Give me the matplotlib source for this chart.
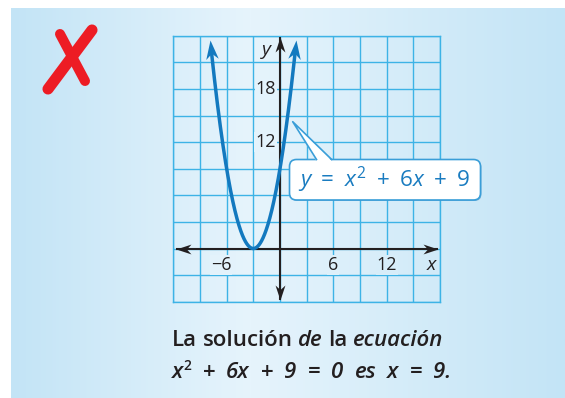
import matplotlib
matplotlib.use("Agg")
import matplotlib.pyplot as plt
import numpy as np
from matplotlib.colors import LinearSegmentedColormap, to_rgb
from matplotlib.markers import MarkerStyle
from matplotlib.path import Path
from matplotlib.patches import FancyBboxPatch, Polygon

plt.rcParams["font.family"] = ["Open Sans", "DejaVu Sans"]
plt.rcParams["mathtext.fontset"] = "custom"
plt.rcParams["mathtext.rm"] = "Open Sans"
plt.rcParams["mathtext.it"] = "Open Sans:italic"
plt.rcParams["mathtext.bf"] = "Open Sans:bold"

# curve y = x^2 + 6x + 9, drawn between the two arrow tips
coeffs = [1, 6, 9]
x_span = (-7.85, 1.85)
x_lim = (-12, 18)
y_lim = (-6, 24)
grid_step = 3
x_tick_labels = {-6: "\u22126", 6: "6", 12: "12"}
y_tick_labels = {12: "12", 18: "18"}
equation = r"$y\ =\ x^2\ +\ 6x\ +\ 9$"
caption_line1 = [("La", "normal"), ("solución", "normal"), ("de", "italic"),
                 ("la", "normal"), ("ecuación", "italic")]
caption_line2 = [("x", "italic"), ("2", "sup"), ("+", "normal"), ("6x", "italic"),
                 ("+", "normal"), ("9", "italic"), ("=", "normal"), ("0", "italic"),
                 ("es", "italic"), ("x", "italic"), ("=", "normal"), ("9.", "italic")]

W, H = 565, 398
INK = "#231f20"
BLUE = "#1379bf"
GRID = "#3db3e6"
EDGE = "#3a9ed8"
BG_LO, BG_HI = "#c3e4f6", "#e6f4fc"

fig = plt.figure(figsize=(W / 100, H / 100), dpi=100)


def bg_mix(px_x):
    t = np.interp(px_x, [11, 250, W], [0.0, 1.0, 0.0])
    lo, hi = np.array(to_rgb(BG_LO)), np.array(to_rgb(BG_HI))
    return tuple(lo + (hi - lo) * t)


# background panel with soft horizontal gradient
bg = fig.add_axes([0, 0, 1, 1], zorder=0)
bg.set_xlim(0, W)
bg.set_ylim(H, 0)
bg.axis("off")
cmap = LinearSegmentedColormap.from_list("panel", [BG_LO, BG_HI])
grad = np.interp(np.arange(11, W), [11, 250, W], [0.0, 1.0, 0.0])
bg.imshow(grad[None, :], extent=(11, W, H, 8), aspect="auto", cmap=cmap,
          vmin=0, vmax=1, interpolation="bilinear")

# coordinate grid
ax = fig.add_axes([173.3 / W, 1 - 301.7 / H, 266.7 / W, 266.0 / H], zorder=2)
ax.set_facecolor("none")
ax.set_xlim(*x_lim)
ax.set_ylim(*y_lim)
ax.set_xticks(np.arange(x_lim[0], x_lim[1] + 1, grid_step))
ax.set_yticks(np.arange(y_lim[0], y_lim[1] + 1, grid_step))
ax.tick_params(length=0, labelbottom=False, labelleft=False)
ax.grid(True, color=GRID, lw=1.0)
for sp in ax.spines.values():
    sp.set_color(GRID)
    sp.set_linewidth(1.0)

head = Path([(0, 0), (-1, 0.33), (-0.7, 0), (-1, -0.33), (0, 0)],
            [Path.MOVETO, Path.LINETO, Path.LINETO, Path.LINETO, Path.CLOSEPOLY])


def arrowhead(x, y, angle, length_px, color):
    m = MarkerStyle(head).rotated(deg=angle)
    ax.plot([x], [y], marker=m, ms=2 * length_px * 0.72, color=color,
            mfc=color, mew=0, ls="none", clip_on=False, zorder=6)


# axes with arrows at both ends
ax_x = (-11.75, 17.75)
ax_y = (-5.8, 23.8)
ax.plot(ax_x, [0, 0], color=INK, lw=1.5, zorder=4, solid_capstyle="butt")
ax.plot([0, 0], ax_y, color=INK, lw=1.5, zorder=4, solid_capstyle="butt")
arrowhead(ax_x[0], 0, 180, 15, INK)
arrowhead(ax_x[1], 0, 0, 15, INK)
arrowhead(0, ax_y[0], -90, 15, INK)
arrowhead(0, ax_y[1], 90, 15, INK)

# parabola, line trimmed under the arrowheads
xs = np.linspace(x_span[0], x_span[1], 600)
ys = np.polyval(coeffs, xs)
disp = ax.transData.transform(np.column_stack([xs, ys]))
tip_len = 19
keep = (np.hypot(*(disp - disp[0]).T) > tip_len * 0.6) & \
       (np.hypot(*(disp - disp[-1]).T) > tip_len * 0.6)
ax.plot(xs[keep], ys[keep], color=BLUE, lw=2.5, zorder=5, solid_capstyle="butt")
for end, inner in ((0, np.argmax(keep)), (-1, len(keep) - 1 - np.argmax(keep[::-1]))):
    d = disp[end] - disp[inner]
    arrowhead(xs[end], ys[end], np.degrees(np.arctan2(d[1], d[0])), tip_len, BLUE)

# tick numbers sit on a knocked-out background
tx = ax.transData
for v, s in x_tick_labels.items():
    px_x = tx.transform((v, 0))[0]
    shift = -4 if v < 0 else 0
    ax.annotate(s, (v, -1.9), xytext=(shift, 0), textcoords="offset points",
                ha="center", va="center", fontsize=13, color=INK, zorder=7,
                bbox=dict(fc=bg_mix(px_x), ec="none", pad=0.6))
for v, s in y_tick_labels.items():
    ax.annotate(s, (0, v), xytext=(-3, 0), textcoords="offset points",
                ha="right", va="center", fontsize=13, color=INK, zorder=7,
                bbox=dict(fc=bg_mix(265), ec="none", pad=0.6))
ax.annotate("x", (x_lim[1], -1.9), xytext=(-6, 0), textcoords="offset points",
            ha="center", va="center", fontsize=14, style="italic", color=INK)
ax.annotate("y", (0, 22.4), xytext=(-10, 0), textcoords="offset points",
            ha="center", va="center", fontsize=14, style="italic", color=INK)

# overlay in pixel space: callout, caption, red cross
top = fig.add_axes([0, 0, 1, 1], zorder=10)
top.set_xlim(0, W)
top.set_ylim(H, 0)
top.axis("off")

shadow = FancyBboxPatch((290.5, 160.5), 191, 40.5, boxstyle="round,pad=0,rounding_size=7",
                        fc="#2f86c0", ec="none", alpha=0.55)
top.add_patch(shadow)
box = FancyBboxPatch((289.5, 159.5), 191, 40.5, boxstyle="round,pad=0,rounding_size=7",
                     fc="white", ec=EDGE, lw=1.2)
top.add_patch(box)
top.add_patch(Polygon([(316.5, 161), (292.7, 121.7), (331.7, 161)], closed=True,
                      fc="white", ec="none"))
top.plot([316.5, 292.7, 331.7], [159.5, 121.7, 159.5], color=EDGE, lw=1.2)
top.text(384, 180, equation, ha="center", va="center", fontsize=16.2, color="#1a7cc0")

renderer = fig.canvas.get_renderer()


def write_line(pieces, x, y, size, gap, weight):
    for word, style in pieces:
        if style == "sup":
            sx = x - gap + 0.5
            t = top.text(sx, y - 8, word, fontsize=size * 0.62, color=INK,
                         va="baseline", ha="left", weight=weight)
            x = sx + t.get_window_extent(renderer).width + gap
        else:
            t = top.text(x, y, word, fontsize=size, style=style, color=INK,
                         va="baseline", ha="left", weight=weight)
            x += t.get_window_extent(renderer).width + gap


write_line(caption_line1, 172, 346, 16, 5.5, "semibold")
write_line(caption_line2, 172, 378, 16, 11, "semibold")

# red cross drawn as two brush strokes
top.plot([60, 85], [34, 81], color="#ed1c24", lw=7.2, solid_capstyle="round")
top.plot([92, 48], [30, 89], color="#ed1c24", lw=8, solid_capstyle="round")

fig.savefig("out.png", dpi=100)
